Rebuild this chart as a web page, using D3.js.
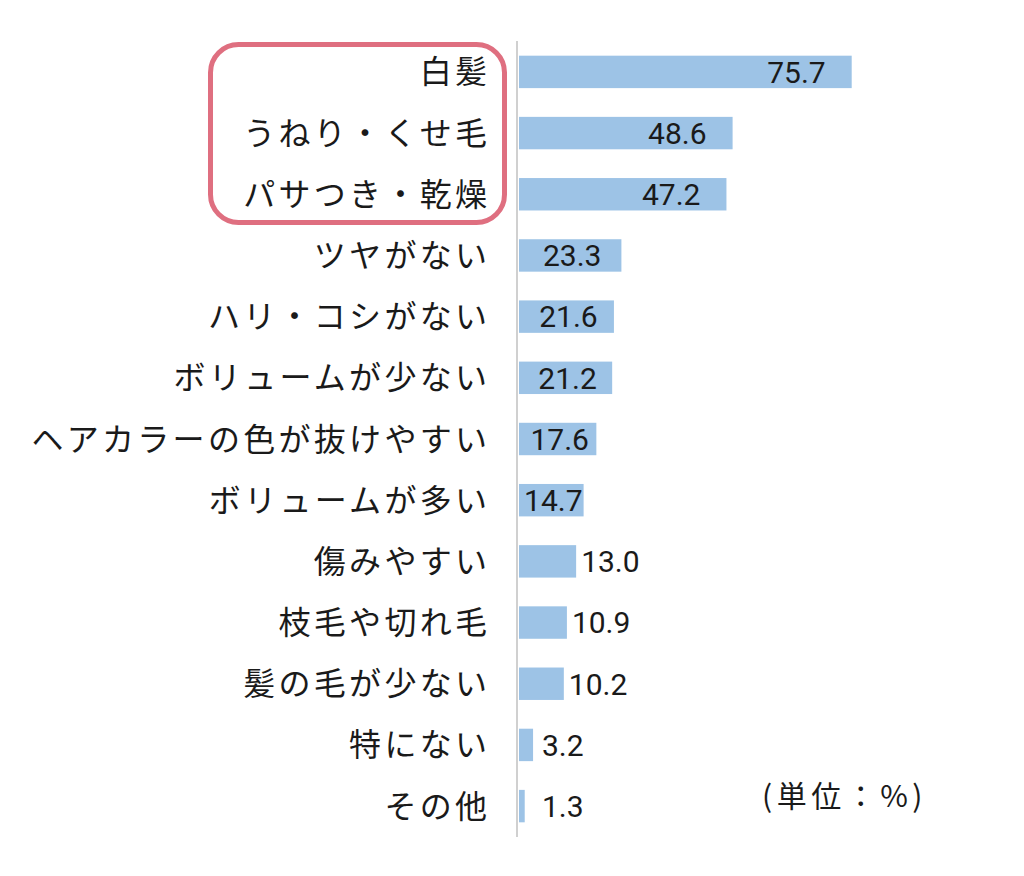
<!DOCTYPE html>
<html><head><meta charset="utf-8">
<script src="https://cdn.jsdelivr.net/npm/d3@7/dist/d3.min.js"></script>
<style>html,body{margin:0;padding:0;background:#fff;}</style>
</head><body>
<svg id="c" width="1024" height="876"></svg>
<script>
const categories = ["白髪","うねり・くせ毛","パサつき・乾燥","ツヤがない","ハリ・コシがない","ボリュームが少ない","ヘアカラーの色が抜けやすい","ボリュームが多い","傷みやすい","枝毛や切れ毛","髪の毛が少ない","特にない","その他"];
const values = [75.7,48.6,47.2,23.3,21.6,21.2,17.6,14.7,13.0,10.9,10.2,3.2,1.3];
const highlighted = ["白髪","うねり・くせ毛","パサつき・乾燥"];
const unitLabel = "(単位：%)";

const svg = d3.select("#c");
const x0 = 519;
const x = d3.scaleLinear().domain([0, 75.7]).range([x0, 851.7]);
const y = d3.scaleBand().domain(categories).range([41, 837]).paddingInner(0.47).paddingOuter(0.24);

const jp = "'Noto Sans CJK JP','Noto Sans',sans-serif";
const num = "Roboto,'Noto Sans',sans-serif";

// highlight box
svg.append("rect")
  .attr("x", 210.5).attr("y", 44.5).attr("width", 294).attr("height", 178)
  .attr("rx", 28).attr("ry", 28)
  .attr("fill", "none").attr("stroke", "#df6f80").attr("stroke-width", 5);

// bars
svg.selectAll("rect.bar").data(values).enter().append("rect")
  .attr("class","bar")
  .attr("x", x0)
  .attr("y", (d,i) => y(categories[i]))
  .attr("width", d => x(d) - x0)
  .attr("height", y.bandwidth())
  .attr("fill", "#9dc3e6");

// axis line
svg.append("line").attr("x1",517).attr("x2",517).attr("y1",41).attr("y2",837)
  .attr("stroke","#d0d0d0").attr("stroke-width",2);

// category labels
const ls = 3.3;
svg.selectAll("text.cat").data(categories).enter().append("text")
  .attr("class","cat")
  .attr("x", 487 + ls)
  .attr("y", d => y(d) + y.bandwidth()/2)
  .attr("dy", "0.36em")
  .attr("text-anchor","end")
  .attr("font-family", jp).attr("font-size", 32)
  .attr("letter-spacing", ls)
  .attr("fill","#1a1a1a")
  .text(d => d);

// value labels
svg.selectAll("text.val").data(values).enter().append("text")
  .attr("class","val")
  .attr("x", d => {
    if (d >= 40) return x(d) - 26;
    if (d >= 14) return (x0 + x(d)) / 2 + 2;
    return Math.max(x(d) + 5, 542);
  })
  .attr("text-anchor", d => d >= 40 ? "end" : (d >= 14 ? "middle" : "start"))
  .attr("y", (d,i) => y(categories[i]) + y.bandwidth()/2)
  .attr("dy", "0.36em")
  .attr("font-family", num).attr("font-size", 30).attr("font-weight", 400)
  .attr("fill","#1a1a1a")
  .text(d => d.toFixed(1));

// unit
svg.append("text").attr("x", 762).attr("y", 796).attr("dy","0.36em")
  .attr("font-family", jp).attr("font-size", 30).attr("fill","#1a1a1a")
  .attr("letter-spacing", 4.5)
  .text(unitLabel);
</script>
</body></html>
